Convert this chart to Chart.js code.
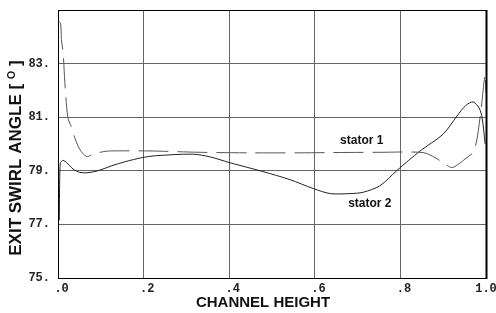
<!DOCTYPE html>
<html>
<head>
<meta charset="utf-8">
<script src="https://cdn.jsdelivr.net/npm/chart.js@4.4.0/dist/chart.umd.min.js"></script>
<style>
  body { margin: 0; background: #fff; }
  #wrap { width: 496px; height: 313px; }
</style>
</head>
<body>
<div id="wrap"><canvas id="myChart" width="496" height="313"></canvas></div>
<script>
// channel height (x) and exit swirl angle (y)
var height1 = [0.000, 0.006, 0.008, 0.012, 0.016, 0.023, 0.032, 0.040, 0.051, 0.067, 0.082, 0.105, 0.121,
  0.215, 0.332, 0.449, 0.565, 0.636, 0.752, 0.853, 0.881, 0.904, 0.920, 0.935, 0.951, 0.972, 0.986, 0.998, 1.000]
var stator1 = [84.6, 84.5, 83.9, 83.4, 82.3, 81.0, 80.6, 80.2, 79.8, 79.53, 79.63, 79.71, 79.74,
  79.74, 79.69, 79.67, 79.67, 79.68, 79.69, 79.68, 79.49, 79.26, 79.12, 79.24, 79.44, 79.74, 80.97, 82.6, 81.9]

var height2 = [0.003, 0.005, 0.009, 0.012, 0.020, 0.035, 0.051, 0.070, 0.093, 0.126, 0.157, 0.196, 0.227,
  0.315, 0.355, 0.402, 0.479, 0.542, 0.596, 0.636, 0.682, 0.713, 0.752, 0.791, 0.846, 0.900, 0.932,
  0.953, 0.970, 0.984, 0.991, 0.998]
var stator2 = [77.15, 79.26, 79.37, 79.39, 79.31, 79.07, 78.94, 78.93, 79.0, 79.19, 79.34, 79.49, 79.56,
  79.62, 79.52, 79.30, 78.97, 78.67, 78.34, 78.15, 78.15, 78.20, 78.44, 79.0, 79.74, 80.37, 81.04,
  81.44, 81.57, 81.34, 80.97, 80.0]

var xTicks = [' .0', ' .2', ' .4', ' .6', ' .8', '1.0']
var yTicks = ['75.', '77.', '79.', '81.', '83.', '']

var labelText = ['stator 1', 'stator 2']
var labelAt = [[0.659, 80.11], [0.678, 77.78]]

function toPoints(xs, ys) {
  var pts = []
  for (var i = 0; i < xs.length; i++) pts.push({x: xs[i], y: ys[i]})
  return pts
}

// frame, axis titles and curve labels
const extras = {
  id: 'extras',
  afterDatasetsDraw(chart) {
    const c = chart.ctx, a = chart.chartArea
    const xs = chart.scales.x, ys = chart.scales.y
    c.save()
    c.strokeStyle = '#000'
    c.lineWidth = 1
    c.strokeRect(a.left + 0.5, a.top + 0.5, a.right - a.left, a.bottom - a.top)
    c.lineWidth = 2
    c.beginPath(); c.moveTo(a.right + 0.5, a.top); c.lineTo(a.right + 0.5, a.bottom + 1); c.stroke()

    c.fillStyle = '#111'
    c.font = 'bold 12px "Liberation Sans", Arial, sans-serif'
    c.textAlign = 'left'
    c.textBaseline = 'middle'
    for (var i = 0; i < labelText.length; i++) {
      c.fillText(labelText[i], xs.getPixelForValue(labelAt[i][0]), ys.getPixelForValue(labelAt[i][1]))
    }

    // x title
    c.font = 'bold 15px "Liberation Sans", Arial, sans-serif'
    c.textAlign = 'center'
    c.textBaseline = 'middle'
    c.fillText('CHANNEL HEIGHT', 263, 303)

    // y title, rotated, with a raised O for the degree sign
    c.translate(16, 158)
    c.rotate(-Math.PI / 2)
    c.textAlign = 'left'
    var big = 'bold 17px "Liberation Sans", Arial, sans-serif'
    var small = 'bold 11px "Liberation Sans", Arial, sans-serif'
    var p1 = 'EXIT SWIRL ANGLE [ ', p2 = 'O', p3 = ' ]'
    c.font = big
    var w1 = c.measureText(p1).width, w3 = c.measureText(p3).width
    c.font = small
    var w2 = c.measureText(p2).width
    var x0 = -(w1 + w2 + w3) / 2
    c.font = big
    c.fillText(p1, x0, 0)
    c.font = small
    c.fillText(p2, x0 + w1, -4)
    c.font = big
    c.fillText(p3, x0 + w1 + w2, 0)
    c.restore()
  }
}

const ctx = document.getElementById('myChart')

new Chart(ctx, {
  type: 'line',
  data: {
    datasets: [{
      label: 'stator 1',
      data: toPoints(height1, stator1),
      borderColor: '#555',
      borderWidth: 1,
      borderDash: [30, 9],
      pointRadius: 0,
      tension: 0.3,
      fill: false
    },
    {
      label: 'stator 2',
      data: toPoints(height2, stator2),
      borderColor: '#222',
      borderWidth: 1,
      pointRadius: 0,
      tension: 0.3,
      fill: false
    }]
  },
  options: {
    responsive: false,
    animation: false,
    layout: { padding: { top: 10, right: 10, left: 0, bottom: 0 } },
    plugins: { legend: { display: false }, tooltip: { enabled: false } },
    scales: {
      x: {
        type: 'linear',
        min: 0,
        max: 1,
        ticks: {
          stepSize: 0.2,
          maxRotation: 0,
          color: '#222',
          padding: 4,
          font: { family: '"Liberation Mono", monospace', size: 12, weight: 'bold' },
          callback: function (v) { return xTicks[Math.round(v * 5)] }
        },
        grid: { color: '#666', drawTicks: false },
        border: { color: '#000' },
        afterFit: function (s) { s.height = 35; s.paddingRight = 0; s.paddingLeft = 0 }
      },
      y: {
        min: 75,
        max: 85,
        ticks: {
          stepSize: 2,
          color: '#222',
          padding: 8,
          font: { family: '"Liberation Mono", monospace', size: 12, weight: 'bold' },
          callback: function (v) { return yTicks[Math.round((v - 75) / 2)] }
        },
        grid: { color: '#666', drawTicks: false },
        border: { color: '#000' },
        afterFit: function (s) { s.width = 58; s.paddingTop = 0; s.paddingBottom = 0 }
      }
    }
  },
  plugins: [extras]
})
</script>
</body>
</html>
